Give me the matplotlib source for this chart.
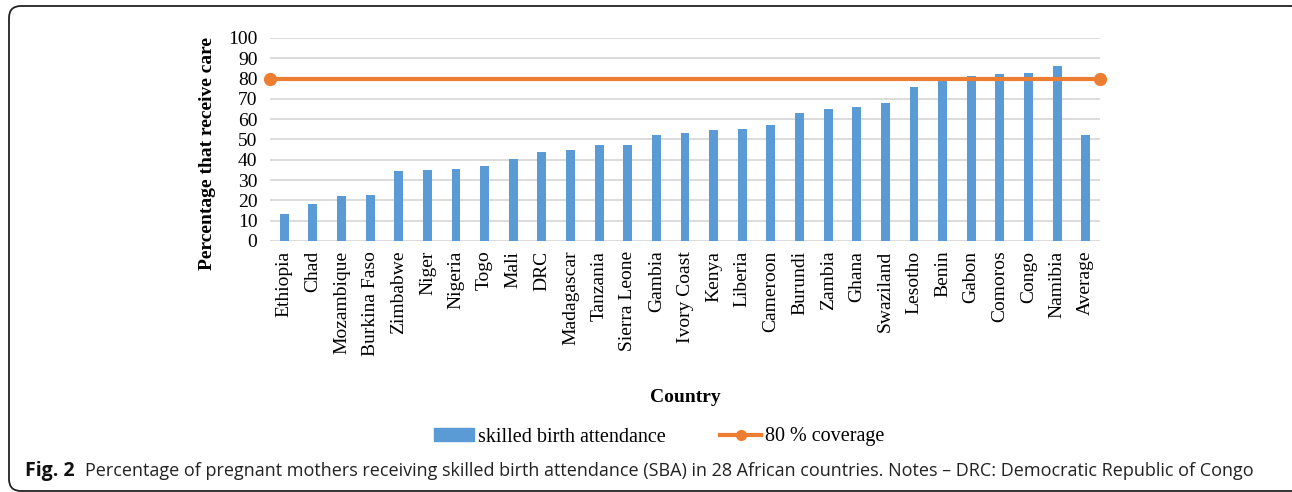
import numpy as np
import matplotlib
matplotlib.use("Agg")
import matplotlib.pyplot as plt
from matplotlib.patches import FancyBboxPatch, Patch
from matplotlib.lines import Line2D

# Data
countries = ["Ethiopia", "Chad", "Mozambique", "Burkina Faso", "Zimbabwe", "Niger",
             "Nigeria", "Togo", "Mali", "DRC", "Madagascar", "Tanzania", "Sierra Leone",
             "Gambia", "Ivory Coast", "Kenya", "Liberia", "Cameroon", "Burundi", "Zambia",
             "Ghana", "Swaziland", "Lesotho", "Benin", "Gabon", "Comoros", "Congo",
             "Namibia", "Average"]
sba = [13.2, 18.1, 22.1, 22.6, 34.4, 35.1, 35.4, 37.1, 40.5, 43.7, 45.0, 47.3, 47.4,
       52.4, 53.0, 54.5, 55.4, 57.3, 62.9, 64.9, 65.9, 68.2, 75.8, 79.4, 81.5, 82.5,
       82.9, 86.3, 52.4]
coverage = [80, 80]
y_ticks = list(range(0, 101, 10))

BLUE = "#5b9bd5"
ORANGE = "#ed7d31"
SERIF = "Liberation Serif"


def main():
    fig = plt.figure(figsize=(12.92, 4.92), dpi=100)
    ax = fig.add_axes([270 / 1292, 1 - 241 / 492, 830 / 1292, 203 / 492])

    x = np.arange(len(countries))
    ax.bar(x, sba, width=0.31, color=BLUE, zorder=2)

    # 80 % target line spans the whole plot area, markers at both ends
    n = len(countries)
    ax.plot([-0.5, n - 0.5], coverage, color=ORANGE, lw=3, marker="o", ms=8.5,
            zorder=3, clip_on=False)

    ax.set_xlim(-0.5, n - 0.5)
    ax.set_ylim(0, 100)
    ax.set_yticks(y_ticks)
    ax.set_xticks(x)
    ax.set_xticklabels(countries, rotation=90, fontfamily=SERIF, fontsize=14)
    for lab in ax.get_yticklabels():
        lab.set_fontfamily(SERIF)
        lab.set_fontsize(14)
    ax.tick_params(axis="both", length=0)
    ax.tick_params(axis="y", pad=9)
    ax.tick_params(axis="x", pad=7)
    ax.grid(axis="y", color="#d9d9d9", lw=1.3, zorder=0)
    for s in ax.spines.values():
        s.set_visible(False)

    ax.set_xlabel("Country", fontfamily=SERIF, fontsize=14, fontweight="bold")
    ax.xaxis.set_label_coords(0.5, (241 - 398) / 203)
    ax.xaxis.label.set_va("center")
    fig.text(208 / 1292, 1 - 154 / 492, "Percentage that receive care", rotation=90,
             ha="center", va="center", fontfamily=SERIF, fontsize=14, fontweight="bold")

    handles = [Patch(color=BLUE),
               Line2D([], [], color=ORANGE, lw=3, marker="o", ms=7)]
    labels = ["skilled birth attendance", "80 % coverage"]
    fig.legend(handles, labels, loc="center", bbox_to_anchor=(659 / 1292, 1 - 437 / 492),
               ncol=2, frameon=False, prop={"family": SERIF, "size": 14.5},
               handlelength=2.0, handleheight=0.6, columnspacing=2.7, handletextpad=0.2)

    # Caption
    fig.text(25 / 1292, 1 - 471 / 492, "Fig. 2", fontfamily="Open Sans",
             fontweight="bold", fontsize=14, va="center", ha="left", color="#111111")
    fig.text(85 / 1292, 1 - 471 / 492,
             "Percentage of pregnant mothers receiving skilled birth attendance (SBA) in "
             "28 African countries. Notes \u2013 DRC: Democratic Republic of Congo",
             fontfamily="Open Sans", fontsize=13.0,
             va="center", ha="left", color="#222222")

    # Rounded frame around the figure (right edge runs off the image)
    frame = FancyBboxPatch((0.09, 0.01), 12.95, 4.85,
                           boxstyle="round,pad=0,rounding_size=0.12",
                           transform=fig.dpi_scale_trans, fill=False,
                           ec="#222222", lw=1.3)
    fig.patches.append(frame)

    fig.savefig("out.png", dpi=100)


if __name__ == "__main__":
    main()
